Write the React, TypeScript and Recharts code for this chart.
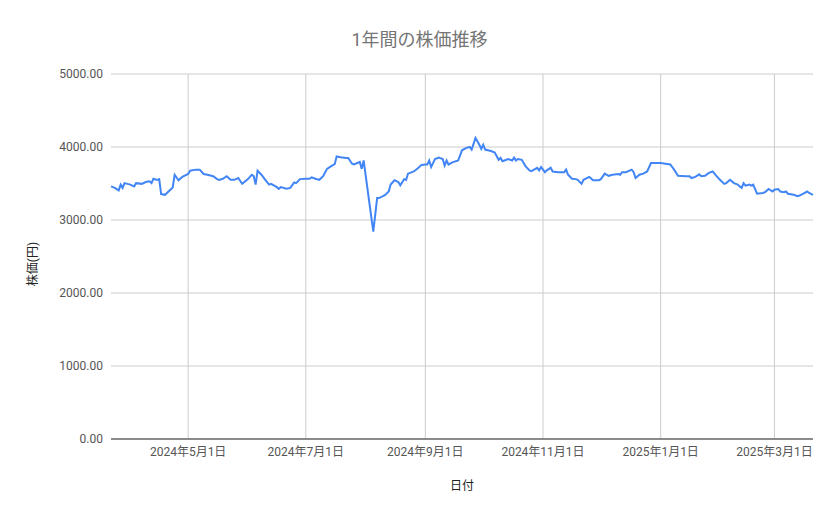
import { LineChart, Line, XAxis, YAxis, CartesianGrid, ReferenceLine } from 'recharts';

// 日付ごとの株価
const dates = [
    '2024-03-22', '2024-03-24', '2024-03-26', '2024-03-27', '2024-03-28', '2024-03-29',
    '2024-04-01', '2024-04-03', '2024-04-04', '2024-04-07', '2024-04-09', '2024-04-11', '2024-04-12', '2024-04-13', '2024-04-15', '2024-04-16', '2024-04-17', '2024-04-19', '2024-04-20', '2024-04-23', '2024-04-24', '2024-04-26', '2024-04-28',
    '2024-05-01', '2024-05-02', '2024-05-05', '2024-05-07', '2024-05-09', '2024-05-11', '2024-05-14', '2024-05-16', '2024-05-17', '2024-05-19', '2024-05-21', '2024-05-23', '2024-05-25', '2024-05-27', '2024-05-29',
    '2024-06-01', '2024-06-03', '2024-06-04', '2024-06-05', '2024-06-06', '2024-06-08', '2024-06-10', '2024-06-12', '2024-06-13', '2024-06-16', '2024-06-17', '2024-06-18', '2024-06-21', '2024-06-23', '2024-06-25', '2024-06-26', '2024-06-28',
    '2024-07-01', '2024-07-03', '2024-07-04', '2024-07-06', '2024-07-08', '2024-07-10', '2024-07-12', '2024-07-14', '2024-07-16', '2024-07-17', '2024-07-19', '2024-07-22', '2024-07-23', '2024-07-25', '2024-07-26', '2024-07-29', '2024-07-30', '2024-07-31',
    '2024-08-05', '2024-08-07', '2024-08-08', '2024-08-11', '2024-08-13', '2024-08-14', '2024-08-16', '2024-08-18', '2024-08-19', '2024-08-21', '2024-08-22', '2024-08-23', '2024-08-26', '2024-08-28', '2024-08-30',
    '2024-09-01', '2024-09-02', '2024-09-03', '2024-09-04', '2024-09-06', '2024-09-08', '2024-09-10', '2024-09-11', '2024-09-12', '2024-09-13', '2024-09-15', '2024-09-18', '2024-09-20', '2024-09-22', '2024-09-24', '2024-09-25', '2024-09-27', '2024-09-29', '2024-09-30',
    '2024-10-01', '2024-10-02', '2024-10-05', '2024-10-07', '2024-10-09', '2024-10-10', '2024-10-11', '2024-10-12', '2024-10-14', '2024-10-16', '2024-10-17', '2024-10-18', '2024-10-19', '2024-10-21', '2024-10-23', '2024-10-25', '2024-10-26', '2024-10-29', '2024-10-30', '2024-10-31',
    '2024-11-02', '2024-11-03', '2024-11-05', '2024-11-06', '2024-11-09', '2024-11-12', '2024-11-13', '2024-11-14', '2024-11-16', '2024-11-18', '2024-11-19', '2024-11-21', '2024-11-22', '2024-11-25', '2024-11-27', '2024-11-30',
    '2024-12-01', '2024-12-03', '2024-12-05', '2024-12-07', '2024-12-10', '2024-12-11', '2024-12-12', '2024-12-14', '2024-12-17', '2024-12-18', '2024-12-19', '2024-12-21', '2024-12-23', '2024-12-25', '2024-12-27',
    '2025-01-01', '2025-01-06', '2025-01-08', '2025-01-10', '2025-01-14', '2025-01-16', '2025-01-17', '2025-01-19', '2025-01-21', '2025-01-22', '2025-01-24', '2025-01-26', '2025-01-28', '2025-01-30',
    '2025-02-01', '2025-02-03', '2025-02-04', '2025-02-06', '2025-02-08', '2025-02-10', '2025-02-11', '2025-02-12', '2025-02-13', '2025-02-14', '2025-02-16', '2025-02-17', '2025-02-18', '2025-02-20', '2025-02-23', '2025-02-24', '2025-02-26', '2025-02-28',
    '2025-03-01', '2025-03-03', '2025-03-04', '2025-03-06', '2025-03-07', '2025-03-08', '2025-03-11', '2025-03-13', '2025-03-14', '2025-03-16', '2025-03-18', '2025-03-19', '2025-03-21',
];

const prices = [
    3460, 3440, 3405, 3485, 3440, 3505,
    3485, 3460, 3505, 3495, 3520, 3530, 3505, 3565, 3550, 3560, 3355, 3345, 3370, 3445, 3620, 3545, 3590,
    3630, 3675, 3690, 3690, 3630, 3620, 3600, 3560, 3550, 3565, 3600, 3550, 3550, 3575, 3495,
    3560, 3620, 3600, 3485, 3675, 3620, 3550, 3485, 3495, 3450, 3425, 3450, 3430, 3440, 3515, 3505, 3560,
    3565, 3565, 3585, 3565, 3550, 3600, 3700, 3735, 3765, 3870, 3860, 3850, 3850, 3770, 3760, 3795, 3700, 3815,
    2840, 3300, 3300, 3340, 3390, 3485, 3545, 3520, 3475, 3560, 3550, 3635, 3665, 3705, 3755,
    3760, 3760, 3815, 3725, 3835, 3855, 3835, 3745, 3815, 3760, 3790, 3815, 3955, 3985, 4000, 3965, 4125, 4030, 3975,
    4030, 3965, 3945, 3925, 3825, 3850, 3805, 3815, 3835, 3815, 3855, 3815, 3835, 3825, 3735, 3680, 3670, 3715, 3680, 3725,
    3655, 3680, 3715, 3665, 3655, 3655, 3690, 3620, 3565, 3560, 3550, 3495, 3550, 3590, 3545, 3545,
    3560, 3635, 3605, 3620, 3630, 3620, 3655, 3655, 3690, 3655, 3575, 3620, 3635, 3665, 3780,
    3780, 3760, 3690, 3605, 3600, 3600, 3575, 3590, 3625, 3600, 3605, 3645, 3665, 3600,
    3545, 3495, 3505, 3550, 3505, 3485, 3460, 3440, 3505, 3470, 3485, 3470, 3485, 3360, 3370, 3380, 3425, 3390,
    3415, 3425, 3390, 3380, 3390, 3360, 3345, 3325, 3335, 3360, 3390, 3370, 3345,
];

const xTicks = ['2024-05-01', '2024-07-01', '2024-09-01', '2024-11-01', '2025-01-01', '2025-03-01'];
const yTicks = [0, 1000, 2000, 3000, 4000, 5000];

const data = dates.map((d, i) => ({ t: Date.parse(d), price: prices[i] }));
const xTickValues = xTicks.map((d) => Date.parse(d));

const formatDate = (t: number) => {
    const d = new Date(t);
    return `${d.getUTCFullYear()}年${d.getUTCMonth() + 1}月${d.getUTCDate()}日`;
};

export default function App() {
    return (
        <div style={{ position: 'absolute', left: 0, top: 0, width: 839, height: 519, background: '#fff', fontFamily: 'Roboto, "Noto Sans CJK JP", sans-serif' }}>
            <div style={{ position: 'absolute', left: 0, top: 29, width: 839, textAlign: 'center', fontSize: 18, lineHeight: '22px', color: '#757575' }}>
                1年間の株価推移
            </div>
            <LineChart width={839} height={519} data={data} margin={{ top: 74, right: 26, bottom: 50, left: 0 }}>
                <CartesianGrid stroke="#cccccc" vertical={false} />
                {/* 縦のグリッド線は目盛りの位置だけ */}
                {xTickValues.map((v) => (
                    <ReferenceLine key={v} x={v} stroke="#cccccc" strokeWidth={1} />
                ))}
                <XAxis
                    dataKey="t"
                    type="number"
                    domain={[Date.parse(dates[0]), Date.parse(dates[dates.length - 1])]}
                    ticks={xTickValues}
                    tickFormatter={formatDate}
                    height={30}
                    tickLine={false}
                    tickSize={0}
                    tickMargin={8}
                    axisLine={{ stroke: '#333333' }}
                    tick={{ fill: '#555555', fontSize: 12 }}
                />
                <YAxis
                    domain={[0, 5000]}
                    ticks={yTicks}
                    tickFormatter={(v: number) => v.toFixed(2)}
                    width={111}
                    tickLine={false}
                    tickSize={0}
                    tickMargin={8}
                    axisLine={false}
                    tick={{ fill: '#555555', fontSize: 12 }}
                />
                <Line type="linear" dataKey="price" stroke="#4285f4" strokeWidth={2} dot={false} isAnimationActive={false} />
            </LineChart>
            <div style={{ position: 'absolute', left: 412, top: 478, width: 100, textAlign: 'center', fontSize: 12, lineHeight: '16px', color: '#222' }}>
                日付
            </div>
            <div style={{ position: 'absolute', left: 33, top: 264, transform: 'translate(-50%, -50%) rotate(-90deg)', whiteSpace: 'nowrap', fontSize: 12, lineHeight: '16px', color: '#222' }}>
                株価(円)
            </div>
        </div>
    );
}
